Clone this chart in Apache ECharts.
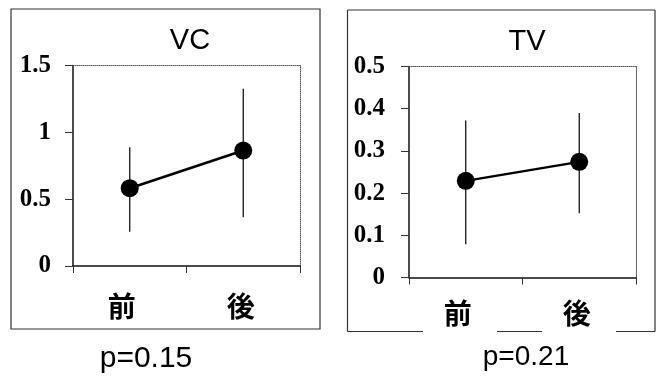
<!DOCTYPE html>
<html>
<head>
<meta charset="utf-8">
<script src="https://cdn.jsdelivr.net/npm/echarts@6/dist/echarts.min.js"></script>
<style>html,body{margin:0;padding:0;background:#fff;}#c{width:661px;height:376px;}</style>
</head>
<body>
<div id="c"></div>
<script>
var categories = ['前', '後'];
var vcMean = [0.582, 0.864];
var vcUpper = [0.889, 1.326];
var vcLower = [0.257, 0.365];
var tvMean = [0.229, 0.274];
var tvUpper = [0.372, 0.390];
var tvLower = [0.079, 0.152];
var vcTitle = 'VC', tvTitle = 'TV';
var vcP = 'p=0.15', tvP = 'p=0.21';

var chart = echarts.init(document.getElementById('c'));

function errData(lo, hi) {
  return categories.map(function (c, i) { return [i, lo[i], hi[i]]; });
}
function errRender(params, api) {
  var x = api.value(0);
  var a = api.coord([x, api.value(1)]);
  var b = api.coord([x, api.value(2)]);
  return { type: 'line', shape: { x1: a[0], y1: a[1], x2: b[0], y2: b[1] },
           style: { stroke: '#000', lineWidth: 1.2 } };
}
var catLabel = {
  fontFamily: 'Noto Sans CJK JP', fontWeight: 'bold', fontSize: 28, color: '#000',
  formatter: function (v) { return v === '前' ? '{a|' + v + '}' : '{b|' + v + '}'; },
  rich: {
    a: { fontFamily: 'Noto Sans CJK JP', fontWeight: 'bold', fontSize: 28, color: '#000', padding: [0, 16, 0, 0] },
    b: { fontFamily: 'Noto Sans CJK JP', fontWeight: 'bold', fontSize: 28, color: '#000', padding: [0, 5, 0, 0] }
  }
};
function bottomX(gi, margin) {
  return {
    type: 'category', gridIndex: gi, data: categories, position: 'bottom', boundaryGap: true,
    axisLine: { onZero: false, lineStyle: { color: '#111', width: 1.5 } },
    axisTick: { show: true, length: 7, lineStyle: { color: '#333', width: 1 } },
    axisLabel: Object.assign({ margin: margin }, catLabel)
  };
}
function topX(gi) {
  return {
    type: 'category', gridIndex: gi, data: categories, position: 'top',
    axisLine: { onZero: false, lineStyle: { color: '#555', width: 1, type: 'dotted' } },
    axisTick: { show: false }, axisLabel: { show: false }
  };
}
function leftY(gi, max, interval, margin) {
  return {
    type: 'value', gridIndex: gi, min: 0, max: max, interval: interval, position: 'left',
    axisLine: { show: true, onZero: false, lineStyle: { color: '#111', width: 1.5 } },
    axisTick: { show: true, length: 8, lineStyle: { color: '#333', width: 1 } },
    splitLine: { show: false },
    axisLabel: { margin: margin, fontFamily: 'Liberation Serif', fontWeight: 'bold', fontSize: 25, color: '#000' }
  };
}
function rightY(gi, max) {
  return {
    type: 'value', gridIndex: gi, min: 0, max: max, position: 'right',
    axisLine: { show: true, onZero: false, lineStyle: { color: '#555', width: 1, type: 'dotted' } },
    axisTick: { show: false }, axisLabel: { show: false }, splitLine: { show: false }
  };
}
var lineStyle = { color: '#000', width: 2.5 };

chart.setOption({
  animation: false,
  backgroundColor: '#fff',
  title: [
    { text: vcTitle, left: 190, top: 26, textAlign: 'center', padding: 0,
      textStyle: { fontFamily: 'Liberation Sans', fontSize: 29, fontWeight: 'normal', color: '#000' } },
    { text: tvTitle, left: 527, top: 27, textAlign: 'center', padding: 0,
      textStyle: { fontFamily: 'Liberation Sans', fontSize: 29, fontWeight: 'normal', color: '#000' } }
  ],
  grid: [
    { left: 73, right: 361, top: 65.5, bottom: 110 },
    { left: 409, right: 25, top: 66.5, bottom: 98.5 }
  ],
  xAxis: [bottomX(0, 26), topX(0), bottomX(1, 22), topX(1)],
  yAxis: [leftY(0, 1.5, 0.5, 22), rightY(0, 1.5), leftY(1, 0.5, 0.1, 24), rightY(1, 0.5)],
  graphic: [
    { type: 'rect', shape: { x: 11, y: 9, width: 309, height: 320 }, style: { fill: 'none', stroke: '#333', lineWidth: 1.2 } },
    { type: 'line', shape: { x1: 347.5, y1: 10, x2: 655, y2: 10 }, style: { stroke: '#333', lineWidth: 1.2 } },
    { type: 'line', shape: { x1: 347.5, y1: 10, x2: 347.5, y2: 331.5 }, style: { stroke: '#333', lineWidth: 1.2 } },
    { type: 'line', shape: { x1: 655, y1: 10, x2: 655, y2: 331.5 }, style: { stroke: '#333', lineWidth: 1.2 } },
    { type: 'line', shape: { x1: 347.5, y1: 331.5, x2: 423, y2: 331.5 }, style: { stroke: '#333', lineWidth: 1.2 } },
    { type: 'line', shape: { x1: 497, y1: 331.5, x2: 542, y2: 331.5 }, style: { stroke: '#333', lineWidth: 1.2 } },
    { type: 'line', shape: { x1: 616, y1: 331.5, x2: 655, y2: 331.5 }, style: { stroke: '#333', lineWidth: 1.2 } },
    { type: 'text', x: 146, y: 359, style: { text: vcP, fontFamily: 'Liberation Sans', fontSize: 30, fill: '#000', textAlign: 'center', textVerticalAlign: 'middle' } },
    { type: 'text', x: 526, y: 357, style: { text: tvP, fontFamily: 'Liberation Sans', fontSize: 28, fill: '#000', textAlign: 'center', textVerticalAlign: 'middle' } }
  ],
  series: [
    { type: 'custom', xAxisIndex: 0, yAxisIndex: 0, renderItem: errRender, data: errData(vcLower, vcUpper), encode: { x: 0, y: [1, 2] }, z: 1 },
    { type: 'line', xAxisIndex: 0, yAxisIndex: 0, data: vcMean, symbol: 'circle', symbolSize: 18,
      itemStyle: { color: '#000' }, lineStyle: lineStyle, z: 3 },
    { type: 'custom', xAxisIndex: 2, yAxisIndex: 2, renderItem: errRender, data: errData(tvLower, tvUpper), encode: { x: 0, y: [1, 2] }, z: 1 },
    { type: 'line', xAxisIndex: 2, yAxisIndex: 2, data: tvMean, symbol: 'circle', symbolSize: 18,
      itemStyle: { color: '#000' }, lineStyle: lineStyle, z: 3 }
  ]
});
</script>
</body>
</html>
